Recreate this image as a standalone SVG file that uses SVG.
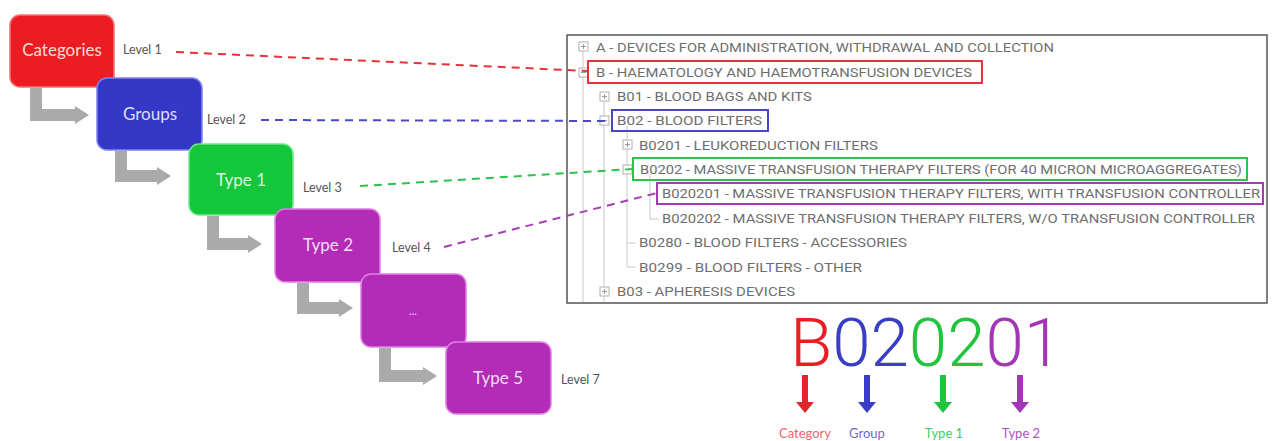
<svg xmlns="http://www.w3.org/2000/svg" width="1272" height="441" viewBox="0 0 1272 441">
<defs>
<style>
.box{stroke-width:1.5}
.bt{font-family:Lato,"Open Sans",sans-serif;font-size:17px;fill:#ffffff;fill-opacity:0.85;text-anchor:middle}
.lvl{font-family:Lato,"Open Sans",sans-serif;font-size:12.5px;fill:#555}
.tr{font-family:Roboto,"Liberation Sans",sans-serif;font-size:13px;fill:#6e6e6e}
.tl{stroke:#c8c8c8;stroke-width:1;fill:none}
.ic{fill:#fff;stroke:#b0b0b0;stroke-width:1}
.icp{stroke:#999;stroke-width:1}
.dash{fill:none;stroke-width:2;stroke-dasharray:8 6}
.ga{fill:#aaaaaa}
.hl{fill:none;stroke-width:2}
.lab{font-family:Lato,"Open Sans",sans-serif;font-size:13px;text-anchor:middle}
</style>
</defs>
<rect width="1272" height="441" fill="#ffffff"/>

<!-- tree panel -->
<g id="tree-panel">
<rect x="567" y="35" width="700" height="268" fill="#fff" stroke="#555" stroke-width="1.5"/>
<path class="tl" d="M583 50V302 M604 101V302 M627 126V267 M627 243H636 M627 267H636 M650 174V219 M650 219H659"/>
<g>
<rect class="ic" x="579" y="42" width="9" height="9"/><path class="icp" d="M581 46.5H586 M583.5 44V49"/>
<rect class="ic" x="579" y="68" width="9" height="9"/><path class="icp" d="M581 72.5H586"/>
<rect class="ic" x="600" y="92" width="9" height="9"/><path class="icp" d="M602 96.5H607 M604.5 94V99"/>
<rect class="ic" x="600" y="116" width="9" height="9"/><path class="icp" d="M602 120.5H607"/>
<rect class="ic" x="623" y="140" width="9" height="9"/><path class="icp" d="M625 144.5H630 M627.5 142V147"/>
<rect class="ic" x="623" y="165" width="9" height="9"/><path class="icp" d="M625 169.5H630"/>
<rect class="ic" x="600" y="287" width="9" height="9"/><path class="icp" d="M602 291.5H607 M604.5 289V294"/>
</g>
<text class="tr" x="596" y="52" textLength="458" lengthAdjust="spacingAndGlyphs">A - DEVICES FOR ADMINISTRATION, WITHDRAWAL AND COLLECTION</text>
<text class="tr" x="596" y="77" textLength="376" lengthAdjust="spacingAndGlyphs">B - HAEMATOLOGY AND HAEMOTRANSFUSION DEVICES</text>
<text class="tr" x="617" y="101" textLength="195" lengthAdjust="spacingAndGlyphs">B01 - BLOOD BAGS AND KITS</text>
<text class="tr" x="617" y="125" textLength="145" lengthAdjust="spacingAndGlyphs">B02 - BLOOD FILTERS</text>
<text class="tr" x="639" y="150" textLength="239" lengthAdjust="spacingAndGlyphs">B0201 - LEUKOREDUCTION FILTERS</text>
<text class="tr" x="640" y="174" textLength="602" lengthAdjust="spacingAndGlyphs">B0202 - MASSIVE TRANSFUSION THERAPY FILTERS (FOR 40 MICRON MICROAGGREGATES)</text>
<text class="tr" x="662" y="198" textLength="598" lengthAdjust="spacingAndGlyphs">B020201 - MASSIVE TRANSFUSION THERAPY FILTERS, WITH TRANSFUSION CONTROLLER</text>
<text class="tr" x="662" y="223" textLength="593" lengthAdjust="spacingAndGlyphs">B020202 - MASSIVE TRANSFUSION THERAPY FILTERS, W/O TRANSFUSION CONTROLLER</text>
<text class="tr" x="639" y="247" textLength="268" lengthAdjust="spacingAndGlyphs">B0280 - BLOOD FILTERS - ACCESSORIES</text>
<text class="tr" x="639" y="272" textLength="223" lengthAdjust="spacingAndGlyphs">B0299 - BLOOD FILTERS - OTHER</text>
<text class="tr" x="617" y="296" textLength="178" lengthAdjust="spacingAndGlyphs">B03 - APHERESIS DEVICES</text>
<rect class="hl" x="588" y="61" width="394" height="22" stroke="#e8323a"/>
<rect class="hl" x="612" y="110" width="156" height="21" stroke="#4646c0"/>
<rect class="hl" x="633" y="158" width="614" height="22" stroke="#2ec24c"/>
<rect class="hl" x="657" y="183" width="606" height="21" stroke="#a63ab4"/>
</g>

<!-- nodes -->
<g id="node-categories">
<rect class="box" x="10" y="15" width="104" height="72" rx="10" fill="#ec1c22" stroke="#f57070"/>
<text class="bt" x="62" y="56">Categories</text>
<text class="lvl" x="123" y="54">Level 1</text>
</g>
<g id="node-groups">
<rect class="box" x="97" y="78" width="105" height="72" rx="10" fill="#3538c6" stroke="#7f82f0"/>
<text class="bt" x="150" y="120">Groups</text>
<text class="lvl" x="207" y="124">Level 2</text>
</g>
<g id="node-type1">
<rect class="box" x="189" y="144" width="104" height="71" rx="10" fill="#14c63a" stroke="#6ee88a"/>
<text class="bt" x="241" y="186">Type 1</text>
<text class="lvl" x="303" y="192">Level 3</text>
</g>
<g id="node-type2">
<rect class="box" x="275" y="209" width="105" height="73" rx="10" fill="#b32cb8" stroke="#e07ee6"/>
<text class="bt" x="328" y="251">Type 2</text>
<text class="lvl" x="392" y="252">Level 4</text>
</g>
<g id="node-ellipsis">
<rect class="box" x="361" y="274" width="105" height="73" rx="10" fill="#b32cb8" stroke="#e07ee6"/>
<text class="bt" x="413" y="315" style="font-size:11px">...</text>
</g>
<g id="node-type5">
<rect class="box" x="446" y="342" width="105" height="72" rx="10" fill="#b32cb8" stroke="#e07ee6"/>
<text class="bt" x="498" y="384">Type 5</text>
<text class="lvl" x="561" y="384">Level 7</text>
</g>

<!-- connectors -->
<g id="connectors">
<path class="ga" d="M30 88H42V109H75V106L89 115L75 124V121H30Z"/>
<path class="ga" d="M115 151H127V170H157V167L171 176L157 185V182H115Z"/>
<path class="ga" d="M207 216H219V238H248V235L262 244L248 253V250H207Z"/>
<path class="ga" d="M297 283H309V302H339V299L353 308L339 317V314H297Z"/>
<path class="ga" d="M379 348H391V370H423V367L437 376L423 385V382H379Z"/>
<path class="dash" stroke="#e8323a" d="M176 52L588 71"/>
<path class="dash" stroke="#4b4bc8" d="M261 120L612 121"/>
<path class="dash" stroke="#2ec24c" d="M360 186L633 169"/>
<path class="dash" stroke="#a640b4" d="M444 247L657 193"/>
</g>

<!-- code breakdown -->
<g id="code">
<text x="790" y="366" font-family="Roboto,'Liberation Sans',sans-serif" font-weight="300" font-size="66" textLength="272" lengthAdjust="spacingAndGlyphs"><tspan fill="#ec1c22">B</tspan><tspan fill="#3a3ec4">02</tspan><tspan fill="#22c43e">02</tspan><tspan fill="#a236b4">01</tspan></text>
</g>
<g id="code-arrows">
<path fill="#e0262c" d="M802 375H808V402H814L805 413L796 402H802Z"/>
<path fill="#3a3ec4" d="M864 375H870V402H876L867 413L858 402H864Z"/>
<path fill="#22c43e" d="M940 375H946V402H952L943 413L934 402H940Z"/>
<path fill="#a236b4" d="M1017 375H1023V402H1029L1020 413L1011 402H1017Z"/>
</g>
<g id="code-labels">
<text class="lab" x="805" y="438" fill="#f0646e">Category</text>
<text class="lab" x="867" y="438" fill="#6c6cd2">Group</text>
<text class="lab" x="944" y="438" fill="#44cc62">Type 1</text>
<text class="lab" x="1021" y="438" fill="#b050c2">Type 2</text>
</g>
</svg>
